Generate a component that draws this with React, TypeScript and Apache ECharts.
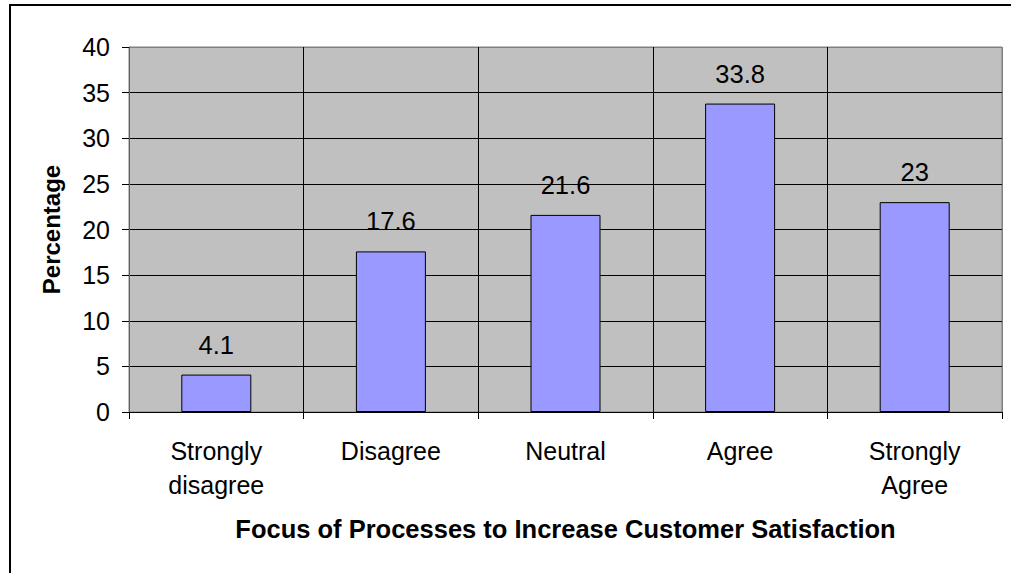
import React, { useEffect, useRef } from "react";
import * as echarts from "echarts";

const categories = ["Strongly\ndisagree", "Disagree", "Neutral", "Agree", "Strongly\nAgree"];
const values = [4.1, 17.6, 21.6, 33.8, 23];
const yTicks = { min: 0, max: 40, interval: 5 };
const xTitle = "Focus of Processes to Increase Customer Satisfaction";
const yTitle = "Percentage";

const FONT = "'Liberation Sans', Arial, sans-serif";

export default function App() {
  const ref = useRef<HTMLDivElement>(null);
  useEffect(() => {
    if (!ref.current) return;
    const chart = echarts.init(ref.current, undefined, { renderer: "svg" });
    chart.setOption({
      animation: false,
      backgroundColor: "#ffffff",
      textStyle: { fontFamily: FONT },
      grid: {
        left: 129,
        top: 47,
        right: 9,
        bottom: 161,
        show: true,
        backgroundColor: "#C0C0C0",
        borderColor: "#808080",
        borderWidth: 1,
      },
      graphic: [
        {
          type: "rect",
          shape: { x: 10, y: 5, width: 1030, height: 600 },
          style: { fill: "none", stroke: "#000", lineWidth: 2 },
          silent: true,
          z: 100,
        },
      ],
      xAxis: {
        type: "category",
        data: categories,
        boundaryGap: true,
        name: xTitle,
        nameLocation: "middle",
        nameGap: 104,
        nameTextStyle: { fontFamily: FONT, fontSize: 25.5, fontWeight: "bold", color: "#000" },
        axisLine: { show: true, lineStyle: { color: "#000", width: 1 } },
        axisTick: { show: true, length: 7, lineStyle: { color: "#000" }, alignWithLabel: false },
        axisLabel: { fontFamily: FONT, fontSize: 25, color: "#000", margin: 22, lineHeight: 34, interval: 0 },
        splitLine: {
          show: true,
          lineStyle: { color: ["#606060", "#000", "#000", "#000", "#000", "#808080"], width: 1 },
        },
      },
      yAxis: {
        type: "value",
        min: yTicks.min,
        max: yTicks.max,
        interval: yTicks.interval,
        name: yTitle,
        nameLocation: "middle",
        nameGap: 66,
        nameRotate: 90,
        nameTextStyle: { fontFamily: FONT, fontSize: 24, fontWeight: "bold", color: "#000" },
        axisLine: { show: true, lineStyle: { color: "#606060", width: 1 } },
        axisTick: { show: true, length: 7, lineStyle: { color: "#000" } },
        axisLabel: { fontFamily: FONT, fontSize: 25, color: "#000", margin: 19 },
        splitLine: {
          show: true,
          lineStyle: {
            color: ["#000", "#000", "#000", "#000", "#000", "#000", "#000", "#000", "#808080"],
            width: 1,
          },
        },
      },
      series: [
        {
          type: "bar",
          data: values,
          barWidth: 70,
          itemStyle: { color: "#9999FF", borderColor: "#000", borderWidth: 1 },
          label: {
            show: true,
            position: "top",
            distance: 17,
            fontFamily: FONT,
            fontSize: 25.5,
            color: "#000",
          },
        },
      ],
    });
    return () => chart.dispose();
  }, []);
  return (
    <div
      ref={ref}
      style={{ position: "fixed", left: 0, top: 0, width: 1011, height: 573 }}
    />
  );
}
